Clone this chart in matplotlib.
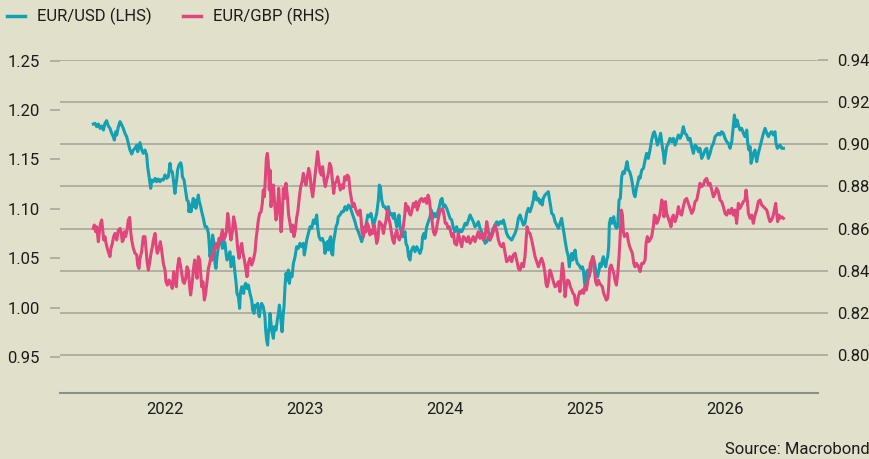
import matplotlib
matplotlib.use("Agg")
import matplotlib.pyplot as plt
from matplotlib.lines import Line2D

plt.rcParams['font.family'] = ['Roboto', 'DejaVu Sans']

# ---------------- data (decimal year, rate) ----------------
eurusd = [
(2021.488,1.1859),(2021.500,1.1866),(2021.512,1.1832),(2021.524,1.1859),(2021.536,1.1815),(2021.548,1.1839),
(2021.560,1.1798),(2021.571,1.1866),(2021.583,1.1893),(2021.595,1.1839),(2021.607,1.1815),(2021.619,1.1765),
(2021.631,1.1731),(2021.638,1.1697),(2021.648,1.1781),(2021.655,1.1748),(2021.667,1.1832),(2021.679,1.1883),
(2021.691,1.1849),(2021.702,1.1815),(2021.714,1.1765),(2021.726,1.1731),(2021.738,1.1663),(2021.750,1.1596),
(2021.762,1.1555),(2021.774,1.1596),(2021.786,1.1613),(2021.798,1.1646),(2021.805,1.1579),(2021.814,1.1629),
(2021.821,1.1670),(2021.833,1.1602),(2021.845,1.1562),(2021.857,1.1596),(2021.869,1.1545),(2021.876,1.1427),
(2021.886,1.1326),(2021.898,1.1208),(2021.905,1.1292),(2021.917,1.1275),(2021.929,1.1309),(2021.940,1.1275),
(2021.952,1.1302),(2021.964,1.1275),(2021.976,1.1299),(2021.988,1.1292),(2022.000,1.1343),(2022.012,1.1309),
(2022.024,1.1326),(2022.036,1.1461),(2022.043,1.1376),(2022.052,1.1376),(2022.060,1.1292),(2022.071,1.1157),
(2022.076,1.1224),(2022.083,1.1292),(2022.090,1.1393),(2022.100,1.1444),(2022.112,1.1467),(2022.119,1.1427),
(2022.124,1.1326),(2022.136,1.1292),(2022.148,1.1174),(2022.157,1.1089),(2022.167,1.1073),(2022.171,1.0971),
(2022.179,1.1039),(2022.186,1.0971),(2022.195,1.1056),(2022.202,1.1106),(2022.210,1.1022),(2022.214,1.1089),
(2022.221,1.1005),(2022.229,1.1073),(2022.238,1.1140),(2022.245,1.1073),(2022.255,1.1022),(2022.262,1.0971),
(2022.274,1.0904),(2022.286,1.0819),(2022.298,1.0819),(2022.310,1.0752),(2022.317,1.0617),(2022.321,1.0516),
(2022.329,1.0583),(2022.340,1.0735),(2022.350,1.0651),(2022.357,1.0448),(2022.364,1.0398),(2022.369,1.0482),
(2022.381,1.0617),(2022.393,1.0684),(2022.400,1.0701),(2022.410,1.0600),(2022.417,1.0684),(2022.429,1.0651),
(2022.436,1.0549),(2022.443,1.0482),(2022.452,1.0516),(2022.464,1.0566),(2022.471,1.0414),(2022.481,1.0431),
(2022.488,1.0516),(2022.500,1.0347),(2022.507,1.0263),(2022.514,1.0144),(2022.524,1.0111),(2022.533,0.9993),
(2022.538,1.0144),(2022.548,1.0212),(2022.555,1.0161),(2022.562,1.0144),(2022.567,1.0212),(2022.576,1.0246),
(2022.586,1.0195),(2022.595,1.0229),(2022.607,1.0144),(2022.619,1.0077),(2022.626,0.9976),(2022.636,0.9942),
(2022.643,1.0026),(2022.655,1.0009),(2022.662,1.0043),(2022.667,0.9942),(2022.674,0.9908),(2022.681,0.9993),
(2022.690,1.0043),(2022.702,1.0009),(2022.714,0.9908),(2022.719,0.9773),(2022.726,0.9672),(2022.733,0.9621),
(2022.738,0.9739),(2022.745,0.9807),
(2022.750,0.9942),(2022.762,0.9773),(2022.774,0.9689),(2022.781,0.9807),(2022.793,0.9773),(2022.802,0.9874),
(2022.810,0.9942),(2022.817,1.0026),(2022.826,0.9908),(2022.836,0.9756),(2022.845,0.9942),(2022.850,1.0009),
(2022.857,1.0212),(2022.864,1.0347),(2022.874,1.0279),(2022.881,1.0381),(2022.888,1.0246),(2022.898,1.0347),
(2022.907,1.0313),(2022.917,1.0448),(2022.929,1.0516),(2022.940,1.0617),(2022.952,1.0600),(2022.964,1.0651),
(2022.976,1.0617),(2022.988,1.0651),(2022.995,1.0533),(2023.005,1.0617),(2023.012,1.0684),(2023.024,1.0752),
(2023.036,1.0819),(2023.048,1.0803),(2023.060,1.0887),(2023.071,1.0853),(2023.083,1.0938),(2023.090,1.0819),
(2023.100,1.0718),(2023.112,1.0684),(2023.124,1.0701),(2023.136,1.0651),(2023.143,1.0549),(2023.150,1.0651),
(2023.160,1.0668),(2023.167,1.0583),(2023.174,1.0684),(2023.183,1.0718),(2023.190,1.0549),(2023.198,1.0533),
(2023.202,1.0651),(2023.214,1.0752),(2023.221,1.0819),(2023.231,1.0853),(2023.238,1.0921),(2023.250,1.0938),
(2023.262,1.0971),(2023.274,1.0971),(2023.286,1.1022),(2023.298,1.0988),(2023.310,1.1039),(2023.321,1.1022),
(2023.333,1.0971),(2023.345,1.0921),(2023.357,1.0870),(2023.369,1.0803),(2023.381,1.0769),(2023.393,1.0718),
(2023.405,1.0668),(2023.417,1.0735),(2023.429,1.0786),(2023.440,1.0870),(2023.448,1.0938),(2023.460,1.0921),
(2023.471,1.0954),(2023.481,1.0887),(2023.488,1.0819),(2023.500,1.0887),(2023.512,1.0954),(2023.524,1.1089),
(2023.531,1.1241),(2023.538,1.1224),(2023.548,1.1089),(2023.560,1.1022),(2023.571,1.1022),(2023.583,1.0988),
(2023.595,1.1022),(2023.607,1.0938),(2023.619,1.0954),(2023.631,1.0904),(2023.638,1.0954),(2023.648,1.0870),
(2023.655,1.0819),(2023.664,1.0870),(2023.671,1.0938),(2023.679,1.0819),(2023.690,1.0752),(2023.702,1.0718),
(2023.714,1.0769),(2023.721,1.0651),(2023.731,1.0617),(2023.740,1.0516),(2023.750,1.0482),(2023.757,1.0566),
(2023.767,1.0600),(2023.774,1.0617),(2023.786,1.0566),(2023.798,1.0617),(2023.810,1.0583),(2023.821,1.0549),
(2023.833,1.0600),(2023.840,1.0718),(2023.850,1.0752),(2023.857,1.0701),(2023.869,1.0819),(2023.881,1.0870),
(2023.893,1.0921),(2023.902,1.0988),(2023.912,1.0904),(2023.924,1.0954),(2023.936,1.0921),(2023.945,1.0954),
(2023.957,1.1005),(2023.969,1.1089),(2023.979,1.1106),(2023.988,1.1022),(2024.000,1.1039),(2024.012,1.1005),
(2024.024,1.0954),(2024.036,1.0904),(2024.048,1.0887),(2024.060,1.0803),(2024.071,1.0769),
(2024.083,1.0819),(2024.095,1.0752),(2024.107,1.0786),(2024.119,1.0769),(2024.131,1.0803),(2024.143,1.0853),
(2024.155,1.0836),(2024.167,1.0887),(2024.179,1.0938),(2024.190,1.0904),(2024.202,1.0870),(2024.214,1.0819),
(2024.226,1.0836),(2024.238,1.0870),(2024.250,1.0803),(2024.262,1.0769),(2024.274,1.0718),(2024.286,1.0651),
(2024.298,1.0668),(2024.310,1.0718),(2024.321,1.0684),(2024.333,1.0752),(2024.345,1.0803),(2024.357,1.0836),
(2024.369,1.0870),(2024.381,1.0836),(2024.393,1.0870),(2024.405,1.0853),(2024.417,1.0887),(2024.429,1.0819),
(2024.440,1.0752),(2024.452,1.0718),(2024.464,1.0701),(2024.476,1.0684),(2024.488,1.0718),(2024.500,1.0752),
(2024.512,1.0803),(2024.524,1.0904),(2024.536,1.0938),(2024.548,1.0887),(2024.560,1.0836),(2024.571,1.0853),
(2024.583,1.0954),(2024.595,1.1005),(2024.607,1.0971),(2024.619,1.1022),(2024.631,1.1089),(2024.638,1.1174),
(2024.648,1.1157),(2024.655,1.1089),(2024.667,1.1106),(2024.679,1.1056),(2024.686,1.1089),(2024.695,1.1039),
(2024.702,1.1106),(2024.714,1.1140),(2024.726,1.1157),(2024.738,1.1174),(2024.745,1.1106),(2024.755,1.1022),
(2024.762,1.0954),(2024.774,1.0938),(2024.786,1.0870),(2024.798,1.0836),(2024.810,1.0803),(2024.821,1.0853),
(2024.833,1.0904),(2024.840,1.0836),(2024.850,1.0752),(2024.857,1.0684),(2024.869,1.0583),(2024.881,1.0516),
(2024.888,1.0414),(2024.898,1.0516),(2024.905,1.0549),(2024.912,1.0482),(2024.919,1.0533),(2024.929,1.0583),
(2024.936,1.0499),(2024.945,1.0448),(2024.957,1.0431),(2024.969,1.0398),(2024.981,1.0414),(2024.988,1.0381),
(2024.995,1.0279),(2025.002,1.0195),(2025.010,1.0347),(2025.019,1.0381),(2025.029,1.0313),(2025.038,1.0364),
(2025.048,1.0448),(2025.055,1.0516),(2025.064,1.0482),(2025.071,1.0431),(2025.081,1.0347),(2025.090,1.0313),
(2025.100,1.0381),(2025.107,1.0448),(2025.114,1.0414),(2025.124,1.0482),(2025.131,1.0516),(2025.138,1.0448),
(2025.148,1.0414),(2025.155,1.0482),(2025.162,1.0516),(2025.169,1.0617),(2025.174,1.0853),(2025.183,1.0904),
(2025.190,1.0853),(2025.198,1.0887),(2025.205,1.0921),(2025.214,1.0836),(2025.224,1.0803),(2025.233,1.0819),
(2025.243,1.1089),(2025.252,1.1106),(2025.262,1.1326),(2025.271,1.1376),(2025.281,1.1359),(2025.290,1.1410),
(2025.300,1.1478),(2025.310,1.1393),(2025.319,1.1376),(2025.329,1.1326),(2025.338,1.1258),(2025.348,1.1157),
(2025.357,1.1123),(2025.367,1.1208),(2025.376,1.1258),(2025.386,1.1326),
(2025.393,1.1309),(2025.405,1.1393),(2025.417,1.1410),(2025.429,1.1494),(2025.440,1.1562),(2025.452,1.1511),
(2025.464,1.1596),(2025.476,1.1697),(2025.488,1.1765),(2025.495,1.1781),(2025.505,1.1731),(2025.517,1.1646),
(2025.529,1.1697),(2025.540,1.1765),(2025.552,1.1629),(2025.560,1.1562),(2025.567,1.1461),(2025.574,1.1545),
(2025.583,1.1629),(2025.595,1.1663),(2025.607,1.1714),(2025.619,1.1680),(2025.631,1.1714),(2025.643,1.1646),
(2025.655,1.1697),(2025.667,1.1748),(2025.679,1.1714),(2025.690,1.1748),(2025.702,1.1832),(2025.714,1.1765),
(2025.726,1.1748),(2025.738,1.1697),(2025.750,1.1714),(2025.762,1.1629),(2025.774,1.1562),(2025.786,1.1646),
(2025.798,1.1629),(2025.810,1.1579),(2025.821,1.1613),(2025.833,1.1511),(2025.845,1.1545),(2025.857,1.1596),
(2025.869,1.1613),(2025.881,1.1511),(2025.893,1.1562),(2025.905,1.1629),(2025.917,1.1663),(2025.929,1.1731),
(2025.940,1.1748),(2025.952,1.1765),(2025.964,1.1748),(2025.976,1.1781),(2025.988,1.1765),(2026.000,1.1714),
(2026.012,1.1680),(2026.024,1.1663),(2026.036,1.1613),(2026.048,1.1680),(2026.060,1.1849),(2026.067,1.1950),
(2026.076,1.1832),(2026.086,1.1899),(2026.095,1.1849),(2026.107,1.1798),(2026.119,1.1815),(2026.131,1.1765),
(2026.143,1.1731),(2026.155,1.1798),(2026.162,1.1663),(2026.171,1.1596),(2026.179,1.1629),(2026.186,1.1461),
(2026.195,1.1511),(2026.202,1.1562),(2026.214,1.1596),(2026.226,1.1478),(2026.238,1.1562),(2026.250,1.1629),
(2026.262,1.1697),(2026.274,1.1765),(2026.286,1.1815),(2026.298,1.1765),(2026.310,1.1731),(2026.321,1.1765),
(2026.333,1.1781),(2026.345,1.1748),(2026.357,1.1781),(2026.364,1.1663),(2026.374,1.1613),(2026.383,1.1629),
(2026.393,1.1646),(2026.405,1.1613),(2026.417,1.1613),
]

eurgbp = [
(2021.488,0.8601),(2021.495,0.8617),(2021.505,0.8585),(2021.512,0.8609),(2021.524,0.8538),(2021.531,0.8585),
(2021.540,0.8625),(2021.548,0.8641),(2021.555,0.8593),(2021.562,0.8546),(2021.571,0.8562),(2021.579,0.8530),
(2021.588,0.8506),(2021.595,0.8490),(2021.607,0.8467),(2021.614,0.8506),(2021.624,0.8530),(2021.633,0.8562),
(2021.643,0.8577),(2021.655,0.8546),(2021.667,0.8593),(2021.679,0.8601),(2021.686,0.8585),(2021.695,0.8538),
(2021.702,0.8546),(2021.710,0.8585),(2021.719,0.8562),(2021.729,0.8593),(2021.738,0.8641),(2021.748,0.8653),
(2021.755,0.8585),(2021.762,0.8546),(2021.774,0.8506),(2021.786,0.8483),(2021.798,0.8475),(2021.805,0.8427),
(2021.814,0.8411),(2021.821,0.8459),(2021.833,0.8490),(2021.845,0.8562),(2021.857,0.8562),(2021.864,0.8506),
(2021.871,0.8451),(2021.881,0.8403),(2021.893,0.8451),(2021.900,0.8483),(2021.910,0.8514),(2021.917,0.8546),
(2021.929,0.8577),(2021.936,0.8522),(2021.945,0.8483),(2021.957,0.8506),(2021.967,0.8538),(2021.976,0.8498),
(2021.988,0.8435),(2022.000,0.8403),(2022.007,0.8348),(2022.017,0.8332),(2022.029,0.8356),(2022.040,0.8340),
(2022.052,0.8316),(2022.062,0.8396),(2022.071,0.8356),(2022.081,0.8324),(2022.090,0.8419),(2022.100,0.8459),
(2022.110,0.8427),(2022.119,0.8388),(2022.129,0.8348),(2022.138,0.8340),(2022.148,0.8364),(2022.157,0.8419),
(2022.167,0.8403),(2022.176,0.8324),(2022.183,0.8285),(2022.195,0.8348),(2022.205,0.8419),(2022.212,0.8451),
(2022.219,0.8411),(2022.229,0.8364),(2022.238,0.8467),(2022.248,0.8451),(2022.255,0.8388),(2022.262,0.8324),
(2022.271,0.8348),(2022.281,0.8261),(2022.290,0.8293),(2022.300,0.8348),(2022.310,0.8411),(2022.319,0.8435),
(2022.329,0.8467),(2022.338,0.8451),(2022.348,0.8498),(2022.357,0.8514),(2022.367,0.8530),(2022.376,0.8506),
(2022.386,0.8554),(2022.395,0.8538),(2022.402,0.8570),(2022.410,0.8593),(2022.419,0.8546),(2022.429,0.8562),
(2022.438,0.8585),(2022.448,0.8672),(2022.455,0.8641),(2022.462,0.8585),(2022.471,0.8546),(2022.481,0.8585),
(2022.490,0.8656),(2022.500,0.8625),(2022.510,0.8577),(2022.519,0.8506),(2022.529,0.8459),(2022.538,0.8506),
(2022.548,0.8530),(2022.557,0.8483),(2022.567,0.8451),(2022.576,0.8411),(2022.586,0.8372),(2022.595,0.8435),
(2022.607,0.8459),(2022.619,0.8427),(2022.631,0.8451),(2022.643,0.8490),(2022.650,0.8546),(2022.660,0.8601),
(2022.667,0.8641),(2022.676,0.8672),(2022.686,0.8680),(2022.695,0.8720),(2022.702,0.8783),(2022.710,0.8751),
(2022.717,0.8846),(2022.724,0.8933),(2022.731,0.8957),(2022.738,0.8910),(2022.745,0.8783),
(2022.750,0.8878),(2022.757,0.8704),(2022.764,0.8767),(2022.774,0.8807),(2022.783,0.8720),(2022.793,0.8641),
(2022.802,0.8680),(2022.812,0.8791),(2022.821,0.8688),(2022.829,0.8585),(2022.838,0.8672),(2022.845,0.8791),
(2022.855,0.8743),(2022.864,0.8815),(2022.874,0.8751),(2022.883,0.8664),(2022.893,0.8625),(2022.902,0.8585),
(2022.912,0.8617),(2022.921,0.8562),(2022.931,0.8593),(2022.940,0.8649),(2022.950,0.8688),(2022.960,0.8751),
(2022.969,0.8799),(2022.979,0.8823),(2022.988,0.8862),(2022.998,0.8831),(2023.007,0.8807),(2023.017,0.8846),
(2023.026,0.8886),(2023.036,0.8854),(2023.045,0.8791),(2023.055,0.8751),(2023.064,0.8807),(2023.074,0.8870),
(2023.083,0.8925),(2023.090,0.8965),(2023.098,0.8918),(2023.107,0.8870),(2023.117,0.8854),(2023.126,0.8894),
(2023.136,0.8831),(2023.145,0.8799),(2023.155,0.8831),(2023.167,0.8862),(2023.176,0.8910),(2023.186,0.8894),
(2023.195,0.8831),(2023.205,0.8767),(2023.214,0.8815),(2023.224,0.8823),(2023.233,0.8846),(2023.243,0.8815),
(2023.252,0.8783),(2023.262,0.8807),(2023.274,0.8791),(2023.283,0.8846),(2023.293,0.8831),(2023.302,0.8854),
(2023.312,0.8846),(2023.321,0.8783),(2023.331,0.8743),(2023.340,0.8704),(2023.350,0.8720),(2023.360,0.8696),
(2023.369,0.8680),(2023.381,0.8664),(2023.393,0.8688),(2023.400,0.8649),(2023.407,0.8585),(2023.417,0.8562),
(2023.426,0.8609),(2023.436,0.8585),(2023.445,0.8625),(2023.455,0.8609),(2023.464,0.8570),(2023.474,0.8593),
(2023.483,0.8577),(2023.493,0.8617),(2023.502,0.8585),(2023.512,0.8530),(2023.521,0.8554),(2023.531,0.8633),
(2023.540,0.8625),(2023.550,0.8617),(2023.560,0.8577),(2023.569,0.8609),(2023.579,0.8641),(2023.588,0.8688),
(2023.598,0.8649),(2023.607,0.8625),(2023.617,0.8585),(2023.626,0.8546),(2023.636,0.8530),(2023.645,0.8570),
(2023.655,0.8593),(2023.664,0.8562),(2023.674,0.8546),(2023.683,0.8562),(2023.693,0.8585),(2023.702,0.8609),
(2023.712,0.8664),(2023.719,0.8720),(2023.726,0.8688),(2023.736,0.8704),(2023.745,0.8672),(2023.755,0.8664),
(2023.764,0.8688),(2023.774,0.8720),(2023.783,0.8704),(2023.793,0.8728),(2023.802,0.8688),(2023.812,0.8712),
(2023.821,0.8736),(2023.833,0.8743),(2023.845,0.8728),(2023.857,0.8743),(2023.869,0.8720),(2023.879,0.8759),
(2023.888,0.8736),(2023.898,0.8680),(2023.907,0.8641),(2023.917,0.8585),(2023.926,0.8570),(2023.936,0.8585),
(2023.945,0.8625),(2023.955,0.8656),(2023.964,0.8688),(2023.974,0.8688),(2023.983,0.8696),(2023.993,0.8664),
(2024.002,0.8625),(2024.012,0.8625),(2024.021,0.8601),(2024.031,0.8609),(2024.040,0.8585),(2024.050,0.8562),
(2024.060,0.8577),(2024.069,0.8530),
(2024.083,0.8522),(2024.095,0.8577),(2024.107,0.8546),(2024.119,0.8514),(2024.131,0.8562),(2024.143,0.8554),
(2024.155,0.8538),(2024.167,0.8562),(2024.179,0.8530),(2024.190,0.8546),(2024.202,0.8562),(2024.214,0.8538),
(2024.226,0.8562),(2024.238,0.8585),(2024.250,0.8554),(2024.262,0.8577),(2024.274,0.8546),(2024.286,0.8562),
(2024.298,0.8633),(2024.310,0.8585),(2024.321,0.8546),(2024.333,0.8562),(2024.345,0.8585),(2024.357,0.8617),
(2024.369,0.8593),(2024.381,0.8546),(2024.393,0.8522),(2024.405,0.8514),(2024.417,0.8530),(2024.429,0.8483),
(2024.440,0.8443),(2024.452,0.8451),(2024.464,0.8467),(2024.476,0.8443),(2024.488,0.8475),(2024.500,0.8483),
(2024.512,0.8451),(2024.524,0.8411),(2024.536,0.8403),(2024.548,0.8435),(2024.560,0.8419),(2024.571,0.8467),
(2024.579,0.8546),(2024.586,0.8609),(2024.595,0.8585),(2024.607,0.8577),(2024.619,0.8546),(2024.631,0.8506),
(2024.643,0.8467),(2024.655,0.8443),(2024.667,0.8419),(2024.679,0.8443),(2024.690,0.8459),(2024.702,0.8435),
(2024.714,0.8388),(2024.721,0.8340),(2024.729,0.8324),(2024.738,0.8348),(2024.750,0.8403),(2024.762,0.8380),
(2024.774,0.8348),(2024.786,0.8324),(2024.798,0.8332),(2024.810,0.8348),(2024.821,0.8301),(2024.829,0.8364),
(2024.838,0.8435),(2024.848,0.8388),(2024.857,0.8277),(2024.867,0.8332),(2024.876,0.8356),(2024.886,0.8348),
(2024.895,0.8324),(2024.905,0.8309),(2024.914,0.8293),(2024.924,0.8285),(2024.933,0.8245),(2024.943,0.8237),
(2024.952,0.8277),(2024.962,0.8301),(2024.971,0.8293),(2024.981,0.8309),(2024.990,0.8293),(2025.000,0.8324),
(2025.010,0.8309),(2025.019,0.8348),(2025.029,0.8380),(2025.038,0.8435),(2025.048,0.8451),(2025.057,0.8467),
(2025.067,0.8403),(2025.076,0.8348),(2025.086,0.8332),(2025.095,0.8356),(2025.105,0.8340),(2025.114,0.8332),
(2025.124,0.8324),(2025.133,0.8293),(2025.143,0.8277),(2025.152,0.8261),(2025.162,0.8269),(2025.169,0.8324),
(2025.176,0.8411),(2025.186,0.8427),(2025.195,0.8411),(2025.205,0.8388),(2025.214,0.8356),(2025.224,0.8332),
(2025.233,0.8380),(2025.243,0.8467),(2025.252,0.8577),(2025.260,0.8688),(2025.267,0.8664),(2025.274,0.8585),
(2025.281,0.8562),(2025.290,0.8570),(2025.300,0.8577),(2025.310,0.8538),(2025.319,0.8514),(2025.329,0.8498),
(2025.338,0.8483),(2025.348,0.8435),(2025.357,0.8419),(2025.367,0.8435),(2025.376,0.8427),(2025.386,0.8411),
(2025.393,0.8396),(2025.405,0.8435),(2025.417,0.8435),(2025.429,0.8451),(2025.436,0.8530),(2025.445,0.8562),
(2025.455,0.8538),(2025.464,0.8546),(2025.476,0.8562),(2025.488,0.8609),(2025.495,0.8664),(2025.505,0.8656),
(2025.512,0.8625),(2025.524,0.8641),(2025.536,0.8672),(2025.548,0.8736),(2025.560,0.8704),(2025.564,0.8656),
(2025.574,0.8728),(2025.583,0.8672),(2025.595,0.8649),(2025.607,0.8625),(2025.614,0.8609),(2025.621,0.8649),
(2025.631,0.8664),(2025.643,0.8633),(2025.655,0.8656),(2025.667,0.8704),(2025.679,0.8672),(2025.690,0.8664),
(2025.702,0.8704),(2025.714,0.8736),(2025.726,0.8743),(2025.738,0.8720),(2025.750,0.8696),(2025.762,0.8672),
(2025.774,0.8688),(2025.786,0.8728),(2025.798,0.8736),(2025.810,0.8775),(2025.821,0.8815),(2025.833,0.8799),
(2025.845,0.8807),(2025.857,0.8831),(2025.869,0.8838),(2025.881,0.8807),(2025.893,0.8815),(2025.905,0.8783),
(2025.917,0.8751),(2025.929,0.8767),(2025.940,0.8791),(2025.952,0.8775),(2025.964,0.8736),(2025.976,0.8728),
(2025.988,0.8704),(2026.000,0.8672),(2026.012,0.8664),(2026.024,0.8688),(2026.036,0.8672),(2026.048,0.8696),
(2026.060,0.8664),(2026.071,0.8688),(2026.083,0.8625),(2026.095,0.8720),(2026.107,0.8696),(2026.119,0.8712),
(2026.131,0.8728),(2026.143,0.8736),(2026.150,0.8783),(2026.160,0.8728),(2026.167,0.8672),(2026.179,0.8649),
(2026.190,0.8664),(2026.202,0.8625),(2026.214,0.8664),(2026.226,0.8688),(2026.238,0.8728),(2026.250,0.8736),
(2026.262,0.8712),(2026.274,0.8704),(2026.286,0.8696),(2026.298,0.8688),(2026.310,0.8656),(2026.321,0.8633),
(2026.333,0.8641),(2026.345,0.8664),(2026.357,0.8704),(2026.362,0.8720),(2026.369,0.8672),(2026.376,0.8633),
(2026.386,0.8664),(2026.393,0.8649),(2026.405,0.8656),(2026.417,0.8649),
]

usd_ticks = [0.95, 1.00, 1.05, 1.10, 1.15, 1.20, 1.25]
gbp_ticks = [0.80, 0.82, 0.84, 0.86, 0.88, 0.90, 0.92, 0.94]
year_ticks = [2022, 2023, 2024, 2025, 2026]
series_labels = ["EUR/USD (LHS)", "EUR/GBP (RHS)"]
source_text = "Source: Macrobond"

# ---------------- style ----------------
BG = '#e1e0ca'
TEAL = '#12a0b2'
PINK = '#e0457b'
GRID = '#a3a298'
AXLINE = '#8f8f89'
TXT = '#1c1c1c'
FS = 12

W, H = 869, 459
fig = plt.figure(figsize=(W / 100, H / 100), dpi=100, facecolor=BG)
rect = [60 / W, 1 - 393 / H, 758 / W, 333 / H]
xlim = (2021.25, 2026.664)
ylim_l = (0.9136, 1.2507)
ylim_r = (0.782, 0.94)

# background axes: grid + right ticks + x axis
axg = fig.add_axes(rect, facecolor=BG)
axg.set_xlim(*xlim)
axg.set_ylim(*ylim_r)
axg.yaxis.tick_right()
axg.set_yticks(gbp_ticks)
axg.set_yticklabels([f"{v:.2f}" for v in gbp_ticks])
axg.yaxis.grid(True, color=GRID, linewidth=1.1)
axg.tick_params(axis='y', which='both', length=7.2, width=1.1, color=GRID,
                pad=6.5, labelsize=FS, labelcolor=TXT, direction='out')
axg.set_xticks(year_ticks)
axg.set_xticklabels([str(y) for y in year_ticks])
axg.tick_params(axis='x', length=0, pad=6.5, labelsize=FS, labelcolor=TXT)
for s in ['top', 'left', 'right']:
    axg.spines[s].set_visible(False)
axg.spines['bottom'].set_color(AXLINE)
axg.spines['bottom'].set_linewidth(1.5)
axg.set_zorder(0)

# left axis: EUR/USD
ax = fig.add_axes(rect)
ax.patch.set_visible(False)
ax.set_xlim(*xlim)
ax.set_ylim(*ylim_l)
ax.set_yticks(usd_ticks)
ax.set_yticklabels([f"{v:.2f}" for v in usd_ticks])
ax.tick_params(axis='y', length=7.2, width=1.1, color=GRID, pad=7.2,
               labelsize=FS, labelcolor=TXT, direction='out')
ax.set_xticks([])
for s in ax.spines.values():
    s.set_visible(False)
ax.set_zorder(1)
ux, uy = zip(*eurusd)
ax.plot(ux, uy, color=TEAL, linewidth=2.2, solid_joinstyle='round')

# right axis: EUR/GBP (on top)
ax2 = fig.add_axes(rect)
ax2.patch.set_visible(False)
ax2.set_xlim(*xlim)
ax2.set_ylim(*ylim_r)
ax2.set_xticks([])
ax2.set_yticks([])
for s in ax2.spines.values():
    s.set_visible(False)
ax2.set_zorder(2)
gx, gy = zip(*eurgbp)
ax2.plot(gx, gy, color=PINK, linewidth=2.2, solid_joinstyle='round')

handles = [Line2D([], [], color=TEAL, linewidth=2.5),
           Line2D([], [], color=PINK, linewidth=2.5)]
fig.legend(handles, series_labels, loc='upper left', bbox_to_anchor=(7 / W, 1 - 8 / H),
           ncol=2, frameon=False, fontsize=FS, handlelength=1.08, handletextpad=0.72,
           columnspacing=1.9, borderpad=0, borderaxespad=0, labelcolor=TXT)

fig.text(1 + 1 / W, 1 - 450 / H, source_text, ha='right', va='center', fontsize=FS, color=TXT)

fig.savefig('out.png', dpi=100, facecolor=BG)
